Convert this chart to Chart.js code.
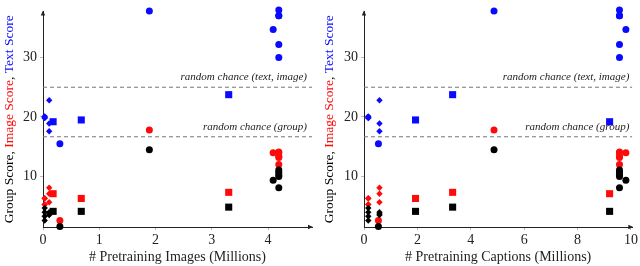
<!DOCTYPE html>
<html>
<head>
<meta charset="utf-8">
<script src="https://cdn.jsdelivr.net/npm/chart.js@4.4.0/dist/chart.umd.min.js"></script>
<style>
html, body { margin: 0; padding: 0; background: #fff; }
#wrap { position: relative; width: 640px; height: 266px; }
canvas { position: absolute; top: 0; }
</style>
</head>
<body>
<div id="wrap">
    <canvas id="imagesChart" width="320" height="266" style="left:0"></canvas>
    <canvas id="captionsChart" width="320" height="266" style="left:320px"></canvas>
</div>
<script>
// models drawn with circles
const CIRCLE_IMAGES = [1.89, 0.30, 4.09, 4.19, 4.19, 4.19, 4.19, 4.19];
const CIRCLE_CAPTIONS = [4.87, 0.54, 9.81, 9.57, 9.57, 9.57, 9.57, 9.57];
const CIRCLE_TEXT = [37.8, 15.5, 34.7, 38.0, 37.0, 32.2, 30.0, 37.0];
const CIRCLE_IMAGE = [17.8, 2.6, 14.0, 14.1, 13.4, 13.2, 12.0, 14.0];
const CIRCLE_GROUP = [14.5, 1.6, 9.35, 11.1, 10.7, 10.3, 10.0, 8.1];

// models drawn with squares
const SQUARE_IMAGES = [0.18, 0.68, 3.30];
const SQUARE_CAPTIONS = [9.20, 1.93, 3.32];
const SQUARE_TEXT = [19.2, 19.5, 23.75];
const SQUARE_IMAGE = [7.1, 6.3, 7.33];
const SQUARE_GROUP = [4.13, 4.13, 4.84];

// models drawn with small diamonds
const DIAMOND_IMAGES = [0.03, 0.03, 0.03, 0.03, 0.11, 0.11, 0.11];
const DIAMOND_CAPTIONS = [0.16, 0.16, 0.16, 0.16, 0.58, 0.58, 0.58];
const DIAMOND_TEXT = [20.1, 19.8, 20.0, 19.9, 22.8, 18.9, 17.6];
const DIAMOND_IMAGE = [6.35, 5.3, 6.3, 5.3, 8.1, 7.1, 5.65];
const DIAMOND_GROUP = [4.7, 4.0, 3.3, 2.6, 4.0, 3.7, 3.5];

const CHANCE_LEVELS = [25, 16.67];
const CHANCE_LABELS = ['random chance (text, image)', 'random chance (group)'];

const Y_TICKS = [10, 20, 30];
const IMAGES_TICKS = [0, 1, 2, 3, 4];
const CAPTIONS_TICKS = [0, 2, 4, 6, 8, 10];

const BLUE = 'rgb(10, 10, 255)';
const RED = 'rgb(255, 10, 10)';
const BLACK = 'rgb(0, 0, 0)';
const SERIF = "'Liberation Serif', 'DejaVu Serif', serif";

Chart.defaults.font.family = SERIF;
Chart.defaults.font.size = 14;
Chart.defaults.color = '#222';

const FAMILIES = [
    { images: DIAMOND_IMAGES, captions: DIAMOND_CAPTIONS, text: DIAMOND_TEXT, image: DIAMOND_IMAGE, group: DIAMOND_GROUP, style: 'rectRot', radius: 3.2 },
    { images: SQUARE_IMAGES, captions: SQUARE_CAPTIONS, text: SQUARE_TEXT, image: SQUARE_IMAGE, group: SQUARE_GROUP, style: 'rect', radius: 5 },
    { images: CIRCLE_IMAGES, captions: CIRCLE_CAPTIONS, text: CIRCLE_TEXT, image: CIRCLE_IMAGE, group: CIRCLE_GROUP, style: 'circle', radius: 3.5 }
];

function buildDatasets(xKey, xMax) {
    const sets = [];
    CHANCE_LEVELS.forEach(level => {
        sets.push({
            data: [{ x: 0, y: level }, { x: xMax, y: level }],
            showLine: true,
            pointRadius: 0,
            borderColor: '#777',
            borderWidth: 1,
            borderDash: [4, 3],
            order: 10
        });
    });
    const scores = [['text', BLUE], ['image', RED], ['group', BLACK]];
    scores.forEach(([key, color], i) => {
        FAMILIES.forEach(f => {
            sets.push({
                data: f[xKey].map((x, j) => ({ x: x, y: f[key][j] })),
                pointStyle: f.style,
                pointRadius: f.radius,
                pointBorderWidth: 0,
                backgroundColor: color,
                borderColor: color,
                clip: false,
                order: 3 - i
            });
        });
    });
    return sets;
}

const decorPlugin = {
    id: 'decor',
    afterDraw(chart) {
        const ctx = chart.ctx;
        const a = chart.chartArea;
        const ys = chart.scales.y;
        ctx.save();
        // arrow heads
        ctx.fillStyle = '#222';
        ctx.beginPath();
        ctx.moveTo(a.right + 1, a.bottom);
        ctx.lineTo(a.right - 4, a.bottom - 2.2);
        ctx.lineTo(a.right - 4, a.bottom + 2.2);
        ctx.closePath();
        ctx.fill();
        ctx.beginPath();
        ctx.moveTo(a.left, a.top - 1);
        ctx.lineTo(a.left - 2.2, a.top + 4);
        ctx.lineTo(a.left + 2.2, a.top + 4);
        ctx.closePath();
        ctx.fill();

        // chance labels
        ctx.font = 'italic 11px ' + SERIF;
        ctx.fillStyle = '#222';
        ctx.textAlign = 'right';
        ctx.textBaseline = 'middle';
        CHANCE_LEVELS.forEach((level, i) => {
            ctx.fillText(CHANCE_LABELS[i], a.right - chart.options.labelInset, ys.getPixelForValue(level) - 10);
        });

        // multi-coloured y title
        const parts = [['Group Score, ', BLACK], ['Image Score', RED], [', ', BLACK], ['Text Score', BLUE]];
        ctx.font = '13.5px ' + SERIF;
        ctx.textAlign = 'left';
        const total = parts.reduce((s, p) => s + ctx.measureText(p[0]).width, 0);
        ctx.translate(9, (a.top + a.bottom) / 2);
        ctx.rotate(-Math.PI / 2);
        let x = -total / 2;
        parts.forEach(([t, c]) => {
            ctx.fillStyle = c;
            ctx.fillText(t, x, 0);
            x += ctx.measureText(t).width;
        });
        ctx.restore();
    }
};

function makeChart(canvasId, xKey, xMax, xTicks, xTitle, axisWidth, rightPad, inset) {
    return new Chart(document.getElementById(canvasId), {
        type: 'scatter',
        data: { datasets: buildDatasets(xKey, xMax) },
        plugins: [decorPlugin],
        options: {
            responsive: false,
            animation: false,
            labelInset: inset,
            layout: { padding: { top: 5, right: rightPad, left: 0, bottom: 0 } },
            plugins: { legend: { display: false }, tooltip: { enabled: false } },
            scales: {
                x: {
                    type: 'linear',
                    min: 0,
                    max: xMax,
                    afterBuildTicks: s => { s.ticks = xTicks.map(v => ({ value: v })); },
                    afterFit: s => { s.height = 39; },
                    grid: { drawOnChartArea: false, tickLength: 3, color: '#bbb' },
                    border: { color: '#222', width: 1 },
                    ticks: { padding: 2, color: '#222' },
                    title: { display: true, text: xTitle, padding: { top: 0, bottom: 0 }, color: '#222' }
                },
                y: {
                    type: 'linear',
                    min: 1.5,
                    max: 37.75,
                    afterBuildTicks: s => { s.ticks = Y_TICKS.map(v => ({ value: v })); },
                    afterFit: s => { s.width = axisWidth; },
                    grid: { drawOnChartArea: false, tickLength: 3, color: '#bbb' },
                    border: { color: '#222', width: 1 },
                    ticks: { padding: 3, color: '#222' }
                }
            }
        }
    });
}

makeChart('imagesChart', 'images', 4.78, IMAGES_TICKS, '# Pretraining Images (Millions)', 43, 8, 5);
makeChart('captionsChart', 'captions', 10.05, CAPTIONS_TICKS, '# Pretraining Captions (Millions)', 44, 7, 3);
</script>
</body>
</html>
